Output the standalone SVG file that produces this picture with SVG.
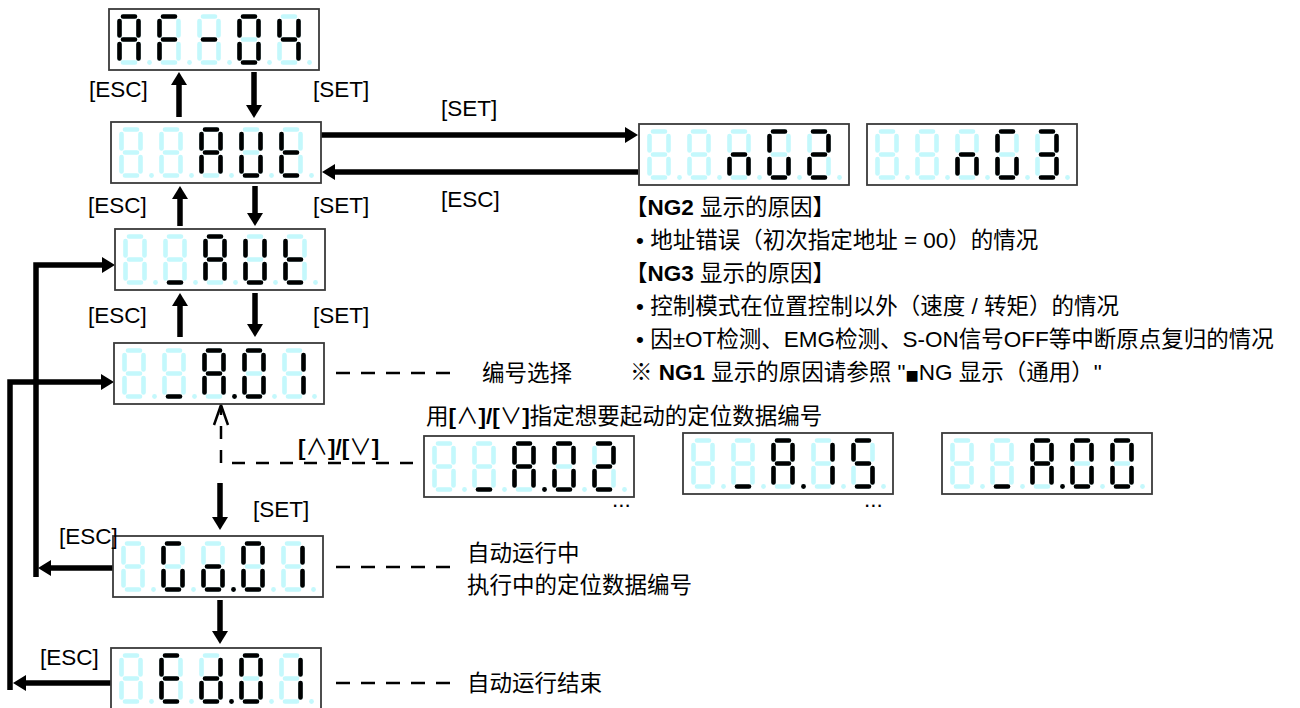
<svg xmlns="http://www.w3.org/2000/svg" xmlns:xlink="http://www.w3.org/1999/xlink" width="1300" height="708" viewBox="0 0 1300 708">
<style>
.box{fill:#fff;stroke:#3a3a3a;stroke-width:1.8}
.off{fill:none;stroke:#c4f8fc;stroke-width:4.6;stroke-linecap:round}
.offdot{fill:#c4f8fc}
.on{fill:none;stroke:#000;stroke-width:4.6;stroke-linecap:round}
.ondot{fill:#000}
.t{font-family:"Liberation Sans","Noto Sans CJK SC",sans-serif;font-size:22.5px;fill:#000}
.b{font-weight:bold}
.sq{font-family:"DejaVu Sans",sans-serif;font-size:14px}
.thick{fill:none;stroke:#000;stroke-width:5.5;stroke-linejoin:miter}
.dash{fill:none;stroke:#000;stroke-width:2.5;stroke-dasharray:14 11}
.dash2{fill:none;stroke:#000;stroke-width:2.5;stroke-dasharray:13 11}
</style>
<defs>
<marker id="ah" viewBox="0 0 13 16" refX="1" refY="8" markerWidth="13" markerHeight="16" markerUnits="userSpaceOnUse" orient="auto"><path d="M0,0L13,8L0,16Z" fill="#000"/></marker>
<marker id="oh" viewBox="-2 -2 24 18" refX="19" refY="7" markerWidth="24" markerHeight="18" markerUnits="userSpaceOnUse" orient="auto"><path d="M0,0L20,7L0,14" fill="none" stroke="#000" stroke-width="2.5"/></marker>
<g id="d8"><path class="off" d="M6,2H18M21.5,6.5V21M21.5,29.5V44M6,48H18M2.5,29.5V44M2.5,6.5V21M6,25H18"/><circle class="offdot" cx="32.5" cy="48" r="2.4"/></g>
<g id="panel"><rect class="box" width="210" height="61"/><use href="#d8" x="8" y="5.5"/><use href="#d8" x="48" y="5.5"/><use href="#d8" x="88" y="5.5"/><use href="#d8" x="128" y="5.5"/><use href="#d8" x="168" y="5.5"/></g>
<circle id="dp" class="ondot" cx="32.5" cy="48" r="2.4"/>
<path id="cA" class="on" d="M6,2H18M21.5,6.5V21M21.5,29.5V44M2.5,29.5V44M2.5,6.5V21M6,25H18"/>
<path id="cF" class="on" d="M6,2H18M2.5,29.5V44M2.5,6.5V21M6,25H18"/>
<path id="cMinus" class="on" d="M6,25H18"/>
<path id="c0" class="on" d="M6,2H18M21.5,6.5V21M21.5,29.5V44M6,48H18M2.5,29.5V44M2.5,6.5V21"/>
<path id="c4" class="on" d="M21.5,6.5V21M21.5,29.5V44M2.5,6.5V21M6,25H18"/>
<path id="cU" class="on" d="M21.5,6.5V21M21.5,29.5V44M6,48H18M2.5,29.5V44M2.5,6.5V21"/>
<path id="ct" class="on" d="M6,48H18M2.5,29.5V44M2.5,6.5V21M6,25H18"/>
<path id="cUs" class="on" d="M6,48H18"/>
<path id="c1" class="on" d="M21.5,6.5V21M21.5,29.5V44"/>
<path id="cG" class="on" d="M6,2H18M21.5,29.5V44M6,48H18M2.5,29.5V44M2.5,6.5V21"/>
<path id="co" class="on" d="M21.5,29.5V44M6,48H18M2.5,29.5V44M6,25H18"/>
<path id="cE" class="on" d="M6,2H18M6,48H18M2.5,29.5V44M2.5,6.5V21M6,25H18"/>
<path id="cd" class="on" d="M21.5,6.5V21M21.5,29.5V44M6,48H18M2.5,29.5V44M6,25H18"/>
<path id="cn" class="on" d="M21.5,29.5V44M2.5,29.5V44M6,25H18"/>
<path id="c2" class="on" d="M6,2H18M21.5,6.5V21M6,48H18M2.5,29.5V44M6,25H18"/>
<path id="c3" class="on" d="M6,2H18M21.5,6.5V21M21.5,29.5V44M6,48H18M6,25H18"/>
<path id="c5" class="on" d="M6,2H18M21.5,29.5V44M6,48H18M2.5,6.5V21M6,25H18"/>
</defs>
<rect width="1300" height="708" fill="#fff"/>

<g id="connectors">
<path class="thick" d="M179,117V84" marker-end="url(#ah)"/>
<path class="thick" d="M254,72V106" marker-end="url(#ah)"/>
<path class="thick" d="M180,226V198" marker-end="url(#ah)"/>
<path class="thick" d="M255,186V214" marker-end="url(#ah)"/>
<path class="thick" d="M180,337V305" marker-end="url(#ah)"/>
<path class="thick" d="M255,293V325" marker-end="url(#ah)"/>
<path class="thick" d="M220,483V518" marker-end="url(#ah)"/>
<path class="thick" d="M220,600V632" marker-end="url(#ah)"/>
<path class="thick" d="M321,135H626" marker-end="url(#ah)"/>
<path class="thick" d="M638,172H334" marker-end="url(#ah)"/>
<path class="thick" d="M113,568H50" marker-end="url(#ah)"/>
<path class="thick" d="M36,577V265H103" marker-end="url(#ah)"/>
<path class="thick" d="M111,683H25" marker-end="url(#ah)"/>
<path class="thick" d="M10,690V382H102" marker-end="url(#ah)"/>
<path class="dash2" d="M413,463H221V406" marker-end="url(#oh)"/>
<path class="dash" d="M336,373H452"/>
<path class="dash" d="M336,567H452"/>
<path class="dash" d="M336,683H452"/>
</g>

<g id="disp-af04" transform="translate(109,9)"><use href="#panel"/><use href="#cA" x="8" y="5.5"/><use href="#cF" x="48" y="5.5"/><use href="#cMinus" x="88" y="5.5"/><use href="#c0" x="128" y="5.5"/><use href="#c4" x="168" y="5.5"/></g>
<g id="disp-aut" transform="translate(111,122)"><use href="#panel"/><use href="#cA" x="88" y="5.5"/><use href="#cU" x="128" y="5.5"/><use href="#ct" x="168" y="5.5"/></g>
<g id="disp-aut2" transform="translate(115,229)"><use href="#panel"/><use href="#cUs" x="48" y="5.5"/><use href="#cA" x="88" y="5.5"/><use href="#cU" x="128" y="5.5"/><use href="#ct" x="168" y="5.5"/></g>
<g id="disp-a01" transform="translate(114,343)"><use href="#panel"/><use href="#cUs" x="48" y="5.5"/><use href="#cA" x="88" y="5.5"/><use href="#dp" x="88" y="5.5"/><use href="#c0" x="128" y="5.5"/><use href="#c1" x="168" y="5.5"/></g>
<g id="disp-go01" transform="translate(113,536)"><use href="#panel"/><use href="#cG" x="48" y="5.5"/><use href="#co" x="88" y="5.5"/><use href="#dp" x="88" y="5.5"/><use href="#c0" x="128" y="5.5"/><use href="#c1" x="168" y="5.5"/></g>
<g id="disp-ed01" transform="translate(111,648)"><use href="#panel"/><use href="#cE" x="48" y="5.5"/><use href="#cd" x="88" y="5.5"/><use href="#dp" x="88" y="5.5"/><use href="#c0" x="128" y="5.5"/><use href="#c1" x="168" y="5.5"/></g>
<g id="disp-ng2" transform="translate(639,124)"><use href="#panel"/><use href="#cn" x="88" y="5.5"/><use href="#cG" x="128" y="5.5"/><use href="#c2" x="168" y="5.5"/></g>
<g id="disp-ng3" transform="translate(867,124)"><use href="#panel"/><use href="#cn" x="88" y="5.5"/><use href="#cG" x="128" y="5.5"/><use href="#c3" x="168" y="5.5"/></g>
<g id="disp-a02" transform="translate(424,436)"><use href="#panel"/><use href="#cUs" x="48" y="5.5"/><use href="#cA" x="88" y="5.5"/><use href="#dp" x="88" y="5.5"/><use href="#c0" x="128" y="5.5"/><use href="#c2" x="168" y="5.5"/></g>
<g id="disp-a15" transform="translate(683,433)"><use href="#panel"/><use href="#cUs" x="48" y="5.5"/><use href="#cA" x="88" y="5.5"/><use href="#dp" x="88" y="5.5"/><use href="#c1" x="128" y="5.5"/><use href="#c5" x="168" y="5.5"/></g>
<g id="disp-a00" transform="translate(942,433)"><use href="#panel"/><use href="#cUs" x="48" y="5.5"/><use href="#cA" x="88" y="5.5"/><use href="#dp" x="88" y="5.5"/><use href="#c0" x="128" y="5.5"/><use href="#c0" x="168" y="5.5"/></g>

<g id="labels">
<text class="t" x="89" y="97">[ESC]</text>
<text class="t" x="313" y="97">[SET]</text>
<text class="t" x="441" y="116">[SET]</text>
<text class="t" x="441" y="207">[ESC]</text>
<text class="t" x="88" y="213">[ESC]</text>
<text class="t" x="313" y="213">[SET]</text>
<text class="t" x="88" y="323">[ESC]</text>
<text class="t" x="313" y="323">[SET]</text>
<text class="t" x="298" y="455"><tspan class="b">[</tspan>∧<tspan class="b">]/[</tspan>∨<tspan class="b">]</tspan></text>
<text class="t" x="253" y="517">[SET]</text>
<text class="t" x="59" y="544">[ESC]</text>
<text class="t" x="40" y="665">[ESC]</text>
<text class="t" x="482" y="381">编号选择</text>
<text class="t" x="467" y="561">自动运行中</text>
<text class="t" x="467" y="593">执行中的定位数据编号</text>
<text class="t" x="467" y="691">自动运行结束</text>
<text class="t" x="426" y="424">用<tspan class="b">[</tspan>∧<tspan class="b">]/[</tspan>∨<tspan class="b">]</tspan>指定想要起动的定位数据编号</text>
<text class="t" x="612" y="507">...</text>
<text class="t" x="864" y="507">...</text>
<text class="t" x="625" y="215">【<tspan class="b">NG2</tspan> 显示的原因】</text>
<text class="t" x="636" y="248">• 地址错误（初次指定地址 = 00）的情况</text>
<text class="t" x="625" y="281">【<tspan class="b">NG3</tspan> 显示的原因】</text>
<text class="t" x="636" y="314">• 控制模式在位置控制以外（速度 / 转矩）的情况</text>
<text class="t" x="636" y="347">• 因±OT检测、EMG检测、S-ON信号OFF等中断原点复归的情况</text>
<text class="t" x="630" y="380">※ <tspan class="b">NG1</tspan> 显示的原因请参照 "<tspan class="sq">■</tspan>NG 显示（通用）"</text>
</g>
</svg>
